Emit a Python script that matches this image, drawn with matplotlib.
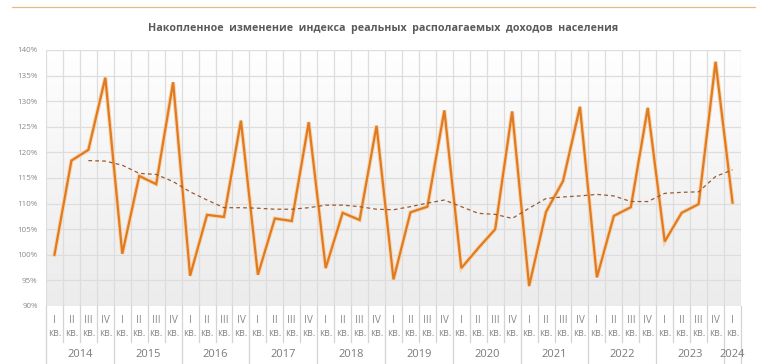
import matplotlib
matplotlib.use("Agg")
import matplotlib.pyplot as plt
import matplotlib.patheffects as pe
import matplotlib.transforms as mtransforms
import numpy as np

plt.rcParams['font.family'] = ['Open Sans', 'DejaVu Sans']

years = ['2014', '2015', '2016', '2017', '2018', '2019', '2020', '2021', '2022', '2023', '2024']
quarters = ['I', 'II', 'III', 'IV']

# накопленное изменение индекса, % (2014 I кв. = 100%)
income_index = [
    100.0, 118.4, 120.5, 134.6,
    100.2, 115.4, 113.8, 133.7,
    95.9, 107.8, 107.4, 126.2,
    96.1, 107.1, 106.6, 125.9,
    97.4, 108.2, 106.8, 125.2,
    95.2, 108.3, 109.4, 128.2,
    97.4, 101.3, 105.0, 128.0,
    93.9, 108.4, 114.4, 128.9,
    95.6, 107.6, 109.3, 128.7,
    102.6, 108.2, 109.9, 137.7,
    110.2,
]

# скользящая средняя за 4 квартала (с 2014 IV кв.)
moving_avg = [
    118.4,
    118.3, 117.5, 115.9, 115.7,
    114.3, 112.3, 110.7, 109.2,
    109.2, 109.1, 108.9, 108.9,
    109.2, 109.7, 109.7, 109.4,
    108.9, 108.8, 109.4, 110.1,
    110.7, 109.4, 108.1, 107.9,
    107.1, 109.1, 111.0, 111.3,
    111.5, 111.8, 111.5, 110.4,
    110.4, 112.0, 112.2, 112.3,
    115.3, 116.6,
]

n = len(income_index)
x = np.arange(n)
x_ma = np.arange(n - len(moving_avg), n)

fig = plt.figure(figsize=(7.58, 3.64), dpi=100)
ax = fig.add_axes([46 / 758, 58 / 364, 695 / 758, 256 / 364])

ax.set_xlim(-0.5, n - 0.5)
ax.set_ylim(90, 140)

# фон с градиентом
grad = np.linspace(0, 1, 256).reshape(-1, 1)
cmap = matplotlib.colors.LinearSegmentedColormap.from_list('bg', ['#ececec', '#f4f4f4', '#ffffff'])
ax.imshow(grad, extent=(-0.5, n - 0.5, 90, 140), origin='lower', aspect='auto',
          cmap=cmap, zorder=0)

# сетка
for xv in np.arange(-0.5, n, 1):
    ax.axvline(xv, color='#dddddd', lw=0.9, zorder=1)
for yv in range(90, 141, 5):
    ax.axhline(yv, color='#dddddd', lw=0.9, zorder=1)

ax.plot(x, income_index, color='#e07b1f', lw=1.6, zorder=3, solid_joinstyle='miter',
        path_effects=[pe.Stroke(linewidth=3.0, foreground='#f7d5b3'), pe.Normal()])
ax.plot(x_ma, moving_avg, color='#9a5a32', lw=0.9, ls=(0, (3, 2.5)), zorder=4)

ax.set_yticks(range(90, 141, 5))
ax.set_yticklabels([f'{v}%' for v in range(90, 141, 5)], fontsize=5.8, color='#8a8a8a')
ax.set_xticks([])
ax.tick_params(axis='y', length=0, pad=6)
for s in ax.spines.values():
    s.set_visible(False)

# подписи категорий
trans = mtransforms.blended_transform_factory(ax.transData, ax.transAxes)
for i in range(n):
    ax.text(x[i], -0.058, quarters[i % 4], transform=trans, ha='center', va='center',
            fontsize=7.2, color='#8a8a8a')
    ax.text(x[i], -0.108, 'кв.', transform=trans, ha='center', va='center',
            fontsize=7, color='#8a8a8a')
for i in range(n + 1):
    bottom = -0.23 if i % 4 == 0 or i == n else -0.14
    ax.plot([i - 0.5, i - 0.5], [0, bottom], transform=trans, color='#d4d4d4',
            lw=0.9, clip_on=False)
for k, yr in enumerate(years):
    start = k * 4
    end = min(start + 4, n)
    ax.text((start + end - 1) / 2, -0.19, yr, transform=trans, ha='center', va='center',
            fontsize=8, color='#7a7a7a')

# верхняя линия и заголовок
fig.add_artist(plt.Line2D([12 / 758, 755 / 758], [1 - 7 / 364, 1 - 7 / 364],
                          color='#e8b98a', lw=0.9))
fig.text(383 / 758, 1 - 28 / 364,
         'Накопленное  изменение  индекса  реальных  располагаемых  доходов  населения',
         ha='center', va='center', fontsize=7.7, fontweight='bold', color='#5a5a5a')

fig.savefig('out.png', dpi=100, facecolor='white')
